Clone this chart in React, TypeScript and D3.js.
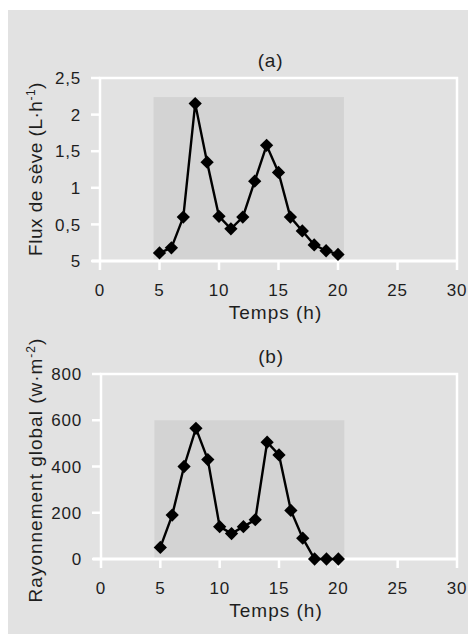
import React from "react";
import * as d3 from "d3";

const hours = [5, 6, 7, 8, 9, 10, 11, 12, 13, 14, 15, 16, 17, 18, 19, 20];
const sapFlow = [0.11, 0.18, 0.6, 2.15, 1.35, 0.61, 0.44, 0.6, 1.09, 1.58, 1.21, 0.6, 0.41, 0.22, 0.14, 0.09];
const radiation = [50, 190, 400, 565, 430, 140, 110, 140, 170, 505, 450, 210, 90, 0, 0, 0];

const xTicks = [0, 5, 10, 15, 20, 25, 30];
const sapTicks = [0, 0.5, 1, 1.5, 2, 2.5];
const sapTickLabels = ["5", "0,5", "1", "1,5", "2", "2,5"];
const radTicks = [0, 200, 400, 600, 800];
const radTickLabels = ["0", "200", "400", "600", "800"];

const FONT = "'Liberation Sans', Arial, Helvetica, sans-serif";
const INK = "#1e1e1e";

type PanelProps = {
  values: number[];
  yMax: number;
  shadeTop: number;
  top: number;
  bottom: number;
  left: number;
  right: number;
  yTicks: number[];
  yTickLabels: string[];
  title: string;
  yLabel: React.ReactNode;
  yLabelCenter: number;
  yLabelSpacing: number;
};

const Panel = (props: PanelProps) => {
  const { values, yMax, shadeTop, top, bottom, left, right, yTicks, yTickLabels, title, yLabel, yLabelCenter, yLabelSpacing } = props;
  const x = d3.scaleLinear().domain([0, 30]).range([left, right]);
  const y = d3.scaleLinear().domain([0, yMax]).range([bottom, top]);
  const pts = hours.map((h, i) => [x(h), y(values[i])] as [number, number]);
  const line = d3.line()(pts) || "";
  const diamond = d3.symbol().type(d3.symbolSquare).size(88)() || "";

  return (
    <g>
      {/* shaded area behind the data */}
      <rect
        x={x(4.5)}
        y={y(shadeTop)}
        width={x(20.5) - x(4.5)}
        height={y(0) - y(shadeTop)}
        fill="#d3d3d3"
      />
      {/* white frame */}
      <path
        d={`M${left},${bottom}V${top}H${right}V${bottom}`}
        fill="none"
        stroke="#ffffff"
        strokeWidth={2.5}
      />
      <line x1={left - 8} x2={right} y1={bottom} y2={bottom} stroke="#ffffff" strokeWidth={3} />
      {yTicks.map((t) => (
        <line key={t} x1={left - 9} x2={left} y1={y(t)} y2={y(t)} stroke="#ffffff" strokeWidth={2.5} />
      ))}
      {xTicks.map((t) => (
        <line key={t} x1={x(t)} x2={x(t)} y1={bottom} y2={bottom + 9} stroke="#ffffff" strokeWidth={2.5} />
      ))}
      {yTicks.map((t, i) => (
        <text key={t} x={left - 19} y={y(t)} dy="0.36em" textAnchor="end" fontSize={17} letterSpacing={0.8} fill={INK}>
          {yTickLabels[i]}
        </text>
      ))}
      {xTicks.map((t) => (
        <text key={t} x={x(t)} y={bottom + 29} dy="0.36em" textAnchor="middle" fontSize={17} letterSpacing={0.8} fill={INK}>
          {t}
        </text>
      ))}
      <text x={(left + right) / 2 - 3} y={bottom + 51} dy="0.36em" textAnchor="middle" fontSize={19} letterSpacing={1} fill={INK}>
        Temps (h)
      </text>
      <text x={x(15) - 8} y={top - 18} dy="0.36em" textAnchor="middle" fontSize={19} letterSpacing={0.8} fill={INK}>
        {title}
      </text>
      <text
        transform={`translate(35,${yLabelCenter}) rotate(-90)`}
        textAnchor="middle"
        dy="0.36em"
        fontSize={19}
        letterSpacing={yLabelSpacing}
        fill={INK}
      >
        {yLabel}
      </text>
      <path d={line} fill="none" stroke="#000" strokeWidth={2.4} />
      {pts.map(([px, py], i) => (
        <path key={i} d={diamond} transform={`translate(${px},${py}) rotate(45)`} fill="#000" />
      ))}
    </g>
  );
};

const App = () => {
  return (
    <svg
      width={468}
      height={634}
      style={{ position: "absolute", left: 0, top: 0, fontFamily: FONT }}
    >
      <rect x={0} y={0} width={468} height={634} fill="#ffffff" />
      <rect x={8} y={10} width={460} height={624} fill="#e2e2e2" />
      <Panel
        values={sapFlow}
        yMax={2.5}
        shadeTop={2.24}
        top={78}
        bottom={261}
        left={100}
        right={457}
        yTicks={sapTicks}
        yTickLabels={sapTickLabels}
        title="(a)"
        yLabelCenter={169}
        yLabelSpacing={0.5}
        yLabel={
          <>
            Flux de sève (L·h<tspan dy="-7" fontSize={12}>-1</tspan>
            <tspan dy="7">)</tspan>
          </>
        }
      />
      <Panel
        values={radiation}
        yMax={800}
        shadeTop={600}
        top={374}
        bottom={559}
        left={101}
        right={457}
        yTicks={radTicks}
        yTickLabels={radTickLabels}
        title="(b)"
        yLabelCenter={470}
        yLabelSpacing={1}
        yLabel={
          <>
            Rayonnement global (w·m<tspan dy="-7" fontSize={12}>-2</tspan>
            <tspan dy="7">)</tspan>
          </>
        }
      />
    </svg>
  );
};

export default App;
